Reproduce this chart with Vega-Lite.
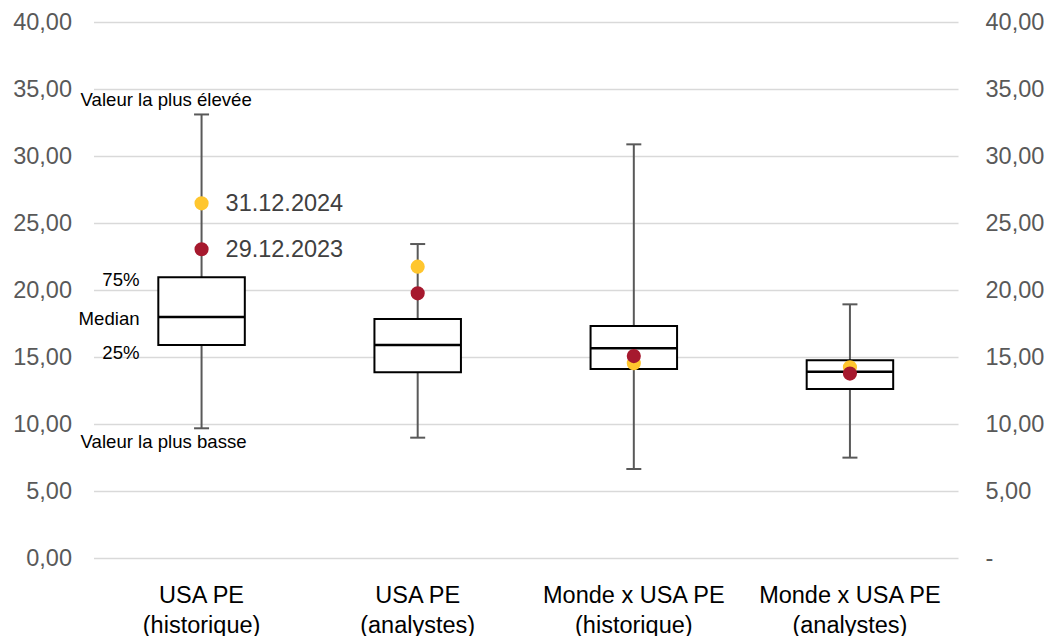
{
  "$schema": "https://vega.github.io/schema/vega-lite/v6.json",
  "autosize": {"type": "none"},
  "padding": {"left": 93.5, "top": 22, "right": 91, "bottom": 78},
  "width": 864.5,
  "height": 536,
  "background": "white",
  "config": {
    "view": {"stroke": null},
    "font": "Liberation Sans"
  },
  "datasets": {
    "boxes": [
      {"cat": "USA PE|(historique)", "low": 9.68, "q1": 15.9, "median": 17.98, "q3": 20.95, "high": 33.1},
      {"cat": "USA PE|(analystes)", "low": 8.98, "q1": 13.86, "median": 15.9, "q3": 17.84, "high": 23.43},
      {"cat": "Monde x USA PE|(historique)", "low": 6.64, "q1": 14.1, "median": 15.65, "q3": 17.31, "high": 30.87},
      {"cat": "Monde x USA PE|(analystes)", "low": 7.49, "q1": 12.61, "median": 13.9, "q3": 14.75, "high": 18.93}
    ],
    "points": [
      {"cat": "USA PE|(historique)", "date": "31.12.2024", "value": 26.47},
      {"cat": "USA PE|(analystes)", "date": "31.12.2024", "value": 21.74},
      {"cat": "Monde x USA PE|(historique)", "date": "31.12.2024", "value": 14.53},
      {"cat": "Monde x USA PE|(analystes)", "date": "31.12.2024", "value": 14.23},
      {"cat": "USA PE|(historique)", "date": "29.12.2023", "value": 23.04},
      {"cat": "USA PE|(analystes)", "date": "29.12.2023", "value": 19.75},
      {"cat": "Monde x USA PE|(historique)", "date": "29.12.2023", "value": 15.07},
      {"cat": "Monde x USA PE|(analystes)", "date": "29.12.2023", "value": 13.76}
    ],
    "notesLeft": [
      {"cat": "USA PE|(historique)", "value": 34.2, "label": "Valeur la plus élevée"},
      {"cat": "USA PE|(historique)", "value": 8.62, "label": "Valeur la plus basse"}
    ],
    "notesRight": [
      {"cat": "USA PE|(historique)", "value": 20.75, "label": "75%"},
      {"cat": "USA PE|(historique)", "value": 17.86, "label": "Median"},
      {"cat": "USA PE|(historique)", "value": 15.3, "label": "25%"}
    ],
    "dateLabels": [
      {"cat": "USA PE|(historique)", "value": 26.42, "label": "31.12.2024"},
      {"cat": "USA PE|(historique)", "value": 23.0, "label": "29.12.2023"}
    ]
  },
  "resolve": {"axis": {"y": "independent"}},
  "encoding": {
    "x": {
      "field": "cat",
      "type": "nominal",
      "sort": null,
      "scale": {"domain": ["USA PE|(historique)", "USA PE|(analystes)", "Monde x USA PE|(historique)", "Monde x USA PE|(analystes)"], "paddingInner": 0, "paddingOuter": 0},
      "axis": {
        "title": null,
        "labelAngle": 0,
        "domain": false,
        "ticks": false,
        "labelExpr": "split(datum.label, '|')",
        "labelFontSize": 23.5,
        "labelColor": "#000000",
        "labelLineHeight": 30,
        "labelPadding": 25,
        "labelBaseline": "top",
        "labelLimit": 0
      }
    }
  },
  "layer": [
    {
      "data": {"name": "boxes"},
      "mark": {"type": "rule", "color": "#595959", "strokeWidth": 2},
      "encoding": {
        "y": {
          "field": "low",
          "type": "quantitative",
          "scale": {"domain": [0, 40], "nice": false, "zero": true},
          "axis": {
            "title": null,
            "orient": "left",
            "values": [0, 5, 10, 15, 20, 25, 30, 35, 40],
            "labelExpr": "replace(format(datum.value, '.2f'), '.', ',')",
            "labelFontSize": 23.5,
            "labelColor": "#595959",
            "labelPadding": 22,
            "domain": false,
            "ticks": false,
            "grid": true,
            "gridColor": "#d9d9d9",
            "gridWidth": 1.3
          }
        },
        "y2": {"field": "high"}
      }
    },
    {
      "data": {"name": "boxes"},
      "mark": {"type": "bar", "width": 86.5, "fill": "white", "stroke": "black", "strokeWidth": 2},
      "encoding": {
        "y": {
          "field": "q1",
          "type": "quantitative",
          "axis": {
            "title": null,
            "orient": "right",
            "values": [0, 5, 10, 15, 20, 25, 30, 35, 40],
            "labelExpr": "datum.value == 0 ? '-' : replace(format(datum.value, '.2f'), '.', ',')",
            "labelFontSize": 23.5,
            "labelColor": "#595959",
            "labelPadding": 27,
            "domain": false,
            "ticks": false,
            "grid": false
          }
        },
        "y2": {"field": "q3"}
      }
    },
    {
      "data": {"name": "boxes"},
      "mark": {"type": "tick", "size": 86.5, "thickness": 2.5, "color": "black", "opacity": 1, "orient": "horizontal"},
      "encoding": {"y": {"field": "median", "type": "quantitative", "axis": null}}
    },
    {
      "data": {"name": "boxes"},
      "mark": {"type": "tick", "size": 15, "thickness": 2, "color": "#595959", "opacity": 1, "orient": "horizontal"},
      "encoding": {"y": {"field": "high", "type": "quantitative", "axis": null}}
    },
    {
      "data": {"name": "boxes"},
      "mark": {"type": "tick", "size": 15, "thickness": 2, "color": "#595959", "opacity": 1, "orient": "horizontal"},
      "encoding": {"y": {"field": "low", "type": "quantitative", "axis": null}}
    },
    {
      "data": {"name": "points"},
      "mark": {"type": "circle", "size": 200, "opacity": 1},
      "encoding": {
        "y": {"field": "value", "type": "quantitative", "axis": null},
        "color": {
          "field": "date",
          "type": "nominal",
          "scale": {"domain": ["31.12.2024", "29.12.2023"], "range": ["#FFC62E", "#A6192E"]},
          "legend": null
        },
        "order": {"field": "date", "sort": "descending"}
      }
    },
    {
      "data": {"name": "dateLabels"},
      "mark": {"type": "text", "align": "left", "baseline": "middle", "dx": 24, "fontSize": 23.5, "color": "#404040"},
      "encoding": {
        "y": {"field": "value", "type": "quantitative", "axis": null},
        "text": {"field": "label"}
      }
    },
    {
      "data": {"name": "notesLeft"},
      "mark": {"type": "text", "align": "left", "baseline": "middle", "dx": -121, "fontSize": 18.6, "color": "#000000"},
      "encoding": {
        "y": {"field": "value", "type": "quantitative", "axis": null},
        "text": {"field": "label"}
      }
    },
    {
      "data": {"name": "notesRight"},
      "mark": {"type": "text", "align": "right", "baseline": "middle", "dx": -62, "fontSize": 18.6, "color": "#000000"},
      "encoding": {
        "y": {"field": "value", "type": "quantitative", "axis": null},
        "text": {"field": "label"}
      }
    }
  ]
}
